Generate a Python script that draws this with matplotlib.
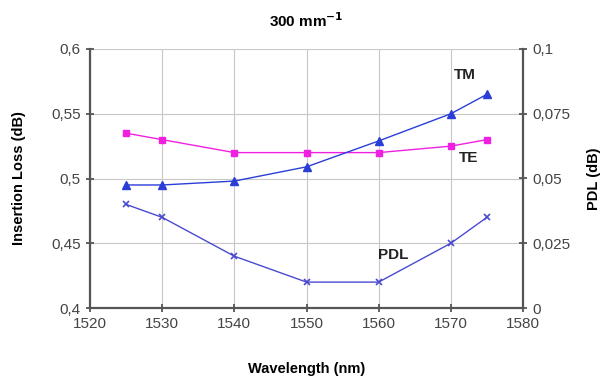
import matplotlib
import matplotlib.pyplot as plt
from matplotlib.ticker import FuncFormatter

matplotlib.use("Agg")

plt.rcParams["font.family"] = ["Liberation Sans", "DejaVu Sans"]

# data
wavelength = [1525, 1530, 1540, 1550, 1560, 1570, 1575]
te_loss = [0.535, 0.530, 0.520, 0.520, 0.520, 0.525, 0.530]
tm_loss = [0.495, 0.495, 0.498, 0.509, 0.529, 0.550, 0.565]
pdl = [0.040, 0.035, 0.020, 0.010, 0.010, 0.025, 0.035]

left_ticks = [0.4, 0.45, 0.5, 0.55, 0.6]
right_ticks = [0, 0.025, 0.05, 0.075, 0.1]
x_ticks = [1520, 1530, 1540, 1550, 1560, 1570, 1580]

TE_COLOR = "#f020e0"
TM_COLOR = "#2a3ed8"
PDL_COLOR = "#4a4ad0"
SPINE_COLOR = "#555555"


def comma(v, _pos):
    s = f"{v:g}"
    return s.replace(".", ",")


def main():
    fig = plt.figure(figsize=(6.03, 3.86), dpi=100)
    ax = fig.add_axes([90 / 603, 1 - 308 / 386, 433 / 603, 259 / 386])
    ax2 = ax.twinx()

    ax.plot(wavelength, te_loss, color=TE_COLOR, lw=1, marker="s", ms=5,
            zorder=3)
    ax.plot(wavelength, tm_loss, color=TM_COLOR, lw=1, marker="^", ms=5.5,
            zorder=3)
    ax2.plot(wavelength, pdl, color=PDL_COLOR, lw=1, marker="x", ms=4,
             mew=1.2, zorder=3)

    ax.set_xlim(1520, 1580)
    ax.set_ylim(0.4, 0.6)
    ax2.set_ylim(0, 0.1)
    ax.set_xticks(x_ticks)
    ax.set_yticks(left_ticks)
    ax2.set_yticks(right_ticks)
    ax.yaxis.set_major_formatter(FuncFormatter(comma))
    ax2.yaxis.set_major_formatter(FuncFormatter(comma))

    ax.grid(True, color="#c8c8c8", lw=0.8)
    ax.set_axisbelow(True)

    for a in (ax, ax2):
        for sp in a.spines.values():
            sp.set_visible(False)
        a.tick_params(direction="inout", length=6, width=1.3,
                      color=SPINE_COLOR, labelsize=11, labelcolor="#444444")
    for side in ("left", "bottom"):
        ax.spines[side].set_visible(True)
        ax.spines[side].set_color(SPINE_COLOR)
        ax.spines[side].set_linewidth(1.6)
    ax2.spines["right"].set_visible(True)
    ax2.spines["right"].set_color(SPINE_COLOR)
    ax2.spines["right"].set_linewidth(1.6)

    ax.set_xlabel("Wavelength (nm)", fontsize=10.5, fontweight="bold",
                  labelpad=22)
    ax.set_ylabel("Insertion Loss (dB)", fontsize=10.5, fontweight="bold",
                  labelpad=18)
    ax2.set_ylabel("PDL (dB)", fontsize=10.5, fontweight="bold", labelpad=12)
    ax.set_title("300 mm$^{\\mathbf{-1}}$", fontsize=11, fontweight="bold",
                 pad=16)

    ax.text(1572, 0.580, "TM", fontsize=11, fontweight="bold", ha="center",
            va="center", color="#222222")
    ax.text(1572.5, 0.516, "TE", fontsize=11, fontweight="bold", ha="center",
            va="center", color="#222222")
    ax.text(1562, 0.441, "PDL", fontsize=11, fontweight="bold", ha="center",
            va="center", color="#222222")

    fig.savefig("out.png", dpi=100)
    plt.close(fig)


if __name__ == "__main__":
    main()
